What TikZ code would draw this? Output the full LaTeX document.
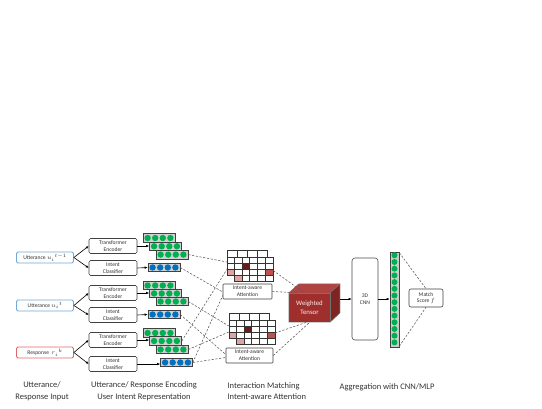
\documentclass[tikz,border=0pt]{standalone}
\usepackage{fontspec}
\setmainfont{Carlito}
\usetikzlibrary{arrows.meta,calc}
\definecolor{dotgreen}{HTML}{00B050}
\definecolor{dotblue}{HTML}{0070C0}
\definecolor{inblue}{HTML}{6FA8DC}
\definecolor{inred}{HTML}{E06666}
\definecolor{tfront}{HTML}{9E2F2C}
\definecolor{ttop}{HTML}{B04442}
\definecolor{tside}{HTML}{7E2422}
\definecolor{cdark}{HTML}{6B1B1B}
\definecolor{cred}{HTML}{C0504D}
\definecolor{cpink}{HTML}{E0A3A1}
\newcommand\vecrow[4]{%
  \node[vecbox] (#1) at (#2,#3) {};
  \foreach \k in {-1.5,-0.5,0.5,1.5}
    \fill[#4] ($(#1.center)+(\k*7.6,0)$) circle (3.2);
}
\newcommand\attgrid[2]{%
  \begin{scope}[shift={(#1,#2)}]
    \fill[white] (227,250) rectangle (267,275);
    \fill[cpink] (227,269) rectangle (234,275);
    \draw[gridline] (227,250) rectangle (267,275);
    \foreach \gx in {237,247,257} \draw[gridline] (\gx,250) -- (\gx,257);
    \foreach \gy in {257,263,269} \draw[gridline] (227,\gy) -- (234,\gy);
    \fill[white] (234,257) rectangle (273,281);
    \fill[cdark] (241.8,263) rectangle (249.6,269);
    \fill[cred] (265.2,269) rectangle (273,275);
    \fill[cpink] (234,275) rectangle (241.8,281);
    \foreach \gx in {241.8,249.6,257.4,265.2} \draw[gridline] (\gx,257) -- (\gx,281);
    \foreach \gy in {263,269,275} \draw[gridline] (234,\gy) -- (273,\gy);
    \draw[gridline] (234,257) rectangle (273,281);
  \end{scope}
}
\begin{document}
\begin{tikzpicture}[x=1pt,y=-1pt,
  smallbox/.style={draw=black!75, line width=0.6pt, rounded corners=1.5pt, fill=white,
     inner sep=0pt, minimum width=48pt, minimum height=15pt, align=center,
     font=\fontsize{5.6}{6.6}\selectfont, text=black!80},
  inbox/.style={line width=0.8pt, rounded corners=1.5pt, fill=white, inner sep=0pt,
     minimum width=57pt, minimum height=11pt, font=\fontsize{5.6}{6.6}\selectfont, text=black!80},
  vecbox/.style={draw=black!75, line width=0.6pt, fill=black!18, inner sep=0pt,
     minimum width=32pt, minimum height=8.5pt},
  gridline/.style={draw=black!80, line width=0.45pt},
  arr/.style={line width=0.6pt, -{Latex[length=3pt,width=2.6pt]}},
  dsh/.style={draw=black!65, line width=0.55pt, dash pattern=on 2.2pt off 1.6pt},
  label/.style={font=\fontsize{8.5}{11.5}\selectfont, align=center, text=black!80}]
\fill[white] (0,0) rectangle (542,408);
\useasboundingbox (0,0) rectangle (542,408);

% inputs
\node[inbox, draw=inblue] (u1) at (45,257.5) {Utterance $u_i{}^{t-1}$};
\node[inbox, draw=inblue] (u2) at (45,305.5) {Utterance $u_i{}^{t}$};
\node[inbox, draw=inred] (r) at (45,352.5) {Response\ \ $r_i{}^{k}$};

% encoders
\node[smallbox] (te1) at (113,246) {Transformer\\Encoder};
\node[smallbox] (ic1) at (113,268) {Intent\\Classifier};
\node[smallbox] (te2) at (113,293) {Transformer\\Encoder};
\node[smallbox] (ic2) at (113,315) {Intent\\Classifier};
\node[smallbox] (te3) at (113,340) {Transformer\\Encoder};
\node[smallbox] (ic3) at (113,364) {Intent\\Classifier};

\foreach \a/\b in {u1/te1,u1/ic1,u2/te2,u2/ic2,r/te3,r/ic3}
  \draw[arr] (\a.east) -- (\b.west);

% vectors
\vecrow{g1a}{159}{238}{dotgreen}
\vecrow{g1b}{165.5}{246.3}{dotgreen}
\vecrow{g1c}{172}{254.6}{dotgreen}
\vecrow{b1}{164}{267.5}{dotblue}
\vecrow{g2a}{159}{285.5}{dotgreen}
\vecrow{g2b}{165.5}{293.5}{dotgreen}
\vecrow{g2c}{172}{301.5}{dotgreen}
\vecrow{b2}{164}{314.5}{dotblue}
\vecrow{g3a}{159}{333}{dotgreen}
\vecrow{g3b}{165.5}{341}{dotgreen}
\vecrow{g3c}{172}{349.5}{dotgreen}
\vecrow{b3}{176.5}{362.5}{dotblue}

\draw[arr] (te1.east) -- (te1.east -| g1b.west);
\draw[arr] (ic1.east) -- (b1.west);
\draw[arr] (te2.east) -- (te2.east -| g2b.west);
\draw[arr] (ic2.east) -- (b2.west);
\draw[arr] (te3.east) -- (te3.east -| g3b.west);
\draw[arr] (ic3.east) -- (ic3.east -| b3.west);

% attention grids
\attgrid{0}{0}
\attgrid{2}{63.5}
\node[inner sep=0pt, minimum width=46pt, minimum height=31pt] (ug) at (250,265.5) {};
\node[inner sep=0pt, minimum width=46pt, minimum height=31pt] (lg) at (252,329) {};
\node[smallbox, rounded corners=0.8pt, minimum width=49pt] (ua) at (247.5,291.5) {Intent-aware\\Attention};
\node[smallbox, rounded corners=0.8pt, minimum width=47pt] (la) at (249.5,355.5) {Intent-aware\\Attention};

% tensor
\node[fill=tfront, inner sep=0pt, minimum width=41pt, minimum height=29pt, align=center,
  text=red!8, font=\fontsize{6.8}{9}\selectfont] (tensor) at (309.5,307.5) {Weighted\\Tensor};
\fill[ttop] (tensor.north west) -- ++(10,-9) -- ++(41,0) -- (tensor.north east) -- cycle;
\fill[tside] (tensor.north east) -- ++(10,-9) -- ++(0,29) -- (tensor.south east) -- cycle;
\draw[black!55, line width=0.4pt] (tensor.south west) -- (tensor.north west) -- ++(10,-9) -- ++(41,0) -- ++(0,29) -- (tensor.south east) -- cycle;
\draw[black!55, line width=0.4pt] (tensor.north west) -- (tensor.north east) -- (tensor.south east);
\draw[black!55, line width=0.4pt] (tensor.north east) -- ++(10,-9);

% dashed connectors
\draw[dsh] (g1c.east) -- ($(ug.west)+(0,-3.5)$);
\draw[dsh] (b1.east) -- ($(ua.west)+(0,0.5)$);
\draw[dsh] (g3b.east) -- ($(ug.west)+(0,4)$);
\draw[dsh] (b3.east) -- ($(ua.west)+(0,4)$);
\draw[dsh] (g2c.east) -- ($(lg.west)+(0,-3)$);
\draw[dsh] (b2.east) -- ($(la.west)+(0,-1)$);
\draw[dsh] (g3c.east) -- ($(lg.west)+(0,3)$);
\draw[dsh] (b3.east) -- ($(la.west)+(0,2)$);
\draw[dsh] ($(ug.east)+(0,5)$) -- ($(tensor.north west)+(14,-1)$);
\draw[dsh] (ua.east) -- ($(tensor.north west)+(8,0)$);
\draw[dsh] ($(lg.east)+(0,4)$) -- ($(tensor.south west)+(18,0)$);
\draw[dsh] (la.east) -- ($(tensor.south west)+(21,0)$);

% CNN, column, score
\node[draw=black!70, line width=0.6pt, rounded corners=3pt, inner sep=0pt, minimum width=26pt,
  minimum height=82pt, align=center, text=black!80, font=\fontsize{5.6}{7}\selectfont] (cnn) at (365,299) {3D\\CNN};
\node[draw=black!75, line width=0.6pt, fill=black!20, inner sep=0pt, minimum width=9pt,
  minimum height=95pt] (col) at (394.5,299.5) {};
\foreach \k in {0,...,13}
  \fill[dotgreen] ($(col.north)+(0,3.6+\k*6.7)$) circle (3);
\node[smallbox, minimum width=34pt, minimum height=18pt, rounded corners=2pt] (ms) at (426,298) {Match\\Score $f$};

\draw[arr] ($(cnn.west -| tensor.east)+(10,0)$) -- (cnn.west);
\draw[arr] (cnn.east) -- (cnn.east -| col.west);
\draw[dsh] ($(col.north east)+(0,1)$) -- (ms.north);
\draw[dsh] ($(col.south east)+(0,-1)$) -- (ms.south);

% bottom labels
\node[label] (l1) at (42,391) {Utterance/\\Response Input};
\node[label] (l2) at (144,391) {Utterance/ Response Encoding\\User Intent Representation};
\node[label, align=left, anchor=west] (l3) at (224,391) {Interaction Matching\\Intent-aware Attention};
\node[label] (l4) at (387,387) {Aggregation with CNN/MLP};
\end{tikzpicture}
\end{document}
